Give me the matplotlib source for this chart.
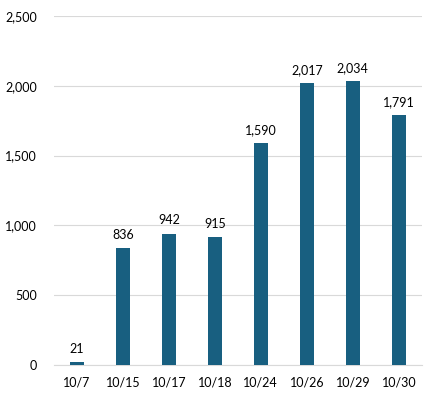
import matplotlib.pyplot as plt
from matplotlib.ticker import FuncFormatter

# Daily counts
dates = ['10/7', '10/15', '10/17', '10/18', '10/24', '10/26', '10/29', '10/30']
counts = [21, 836, 942, 915, 1590, 2017, 2034, 1791]

plt.rcParams['font.family'] = ['Lato', 'DejaVu Sans']

fig = plt.figure(figsize=(4.38, 3.99), dpi=100)
ax = fig.add_axes([0.123, 0.085, 0.84, 0.875])

x = range(len(dates))
bars = ax.bar(x, counts, width=0.3, color='#185F80', zorder=3)

# Value labels above bars
for xi, v in zip(x, counts):
    ax.text(xi, v + 65, f'{v:,}', ha='center', va='baseline', fontsize=9, color='#000000')

ax.set_xlim(-0.5, len(dates) - 0.5)
ax.set_ylim(0, 2500)
ax.set_yticks(range(0, 2501, 500))
ax.yaxis.set_major_formatter(FuncFormatter(lambda v, p: f'{int(v):,}'))
ax.set_xticks(list(x))
ax.set_xticklabels(dates)

ax.grid(axis='y', color='#D9D9D9', linewidth=0.8, zorder=0)
for side in ['top', 'right', 'left']:
    ax.spines[side].set_visible(False)
ax.spines['bottom'].set_color('#D9D9D9')
ax.tick_params(axis='both', length=0, labelsize=9, colors='#000000')
ax.tick_params(axis='x', pad=8)
ax.tick_params(axis='y', pad=12)

fig.savefig('out.png', dpi=100)
